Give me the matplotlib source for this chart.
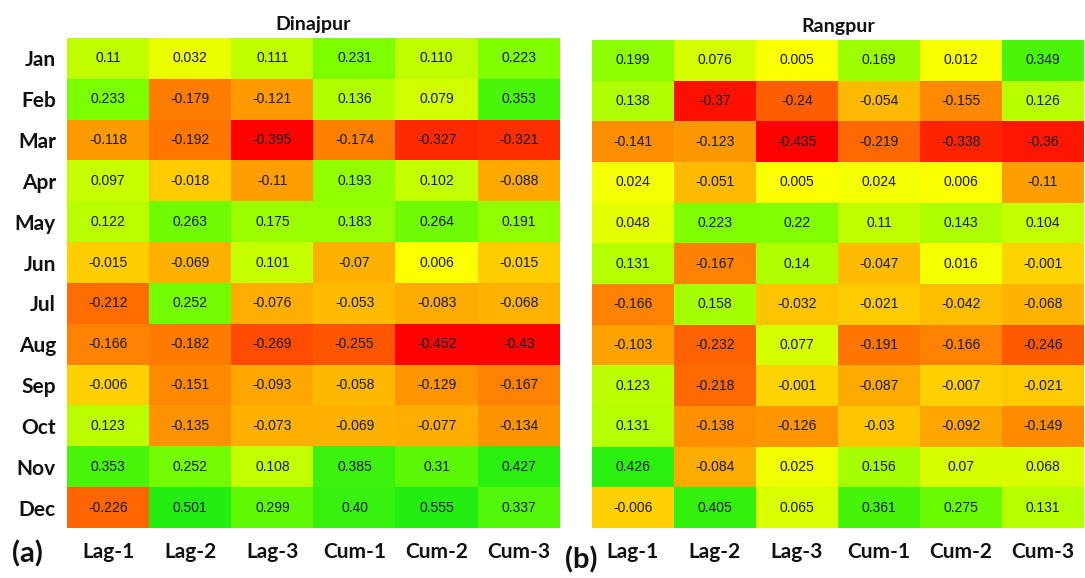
import numpy as np
import matplotlib
matplotlib.use('Agg')
from matplotlib import pyplot as plt
from matplotlib.colors import LinearSegmentedColormap, TwoSlopeNorm

months = ['Jan', 'Feb', 'Mar', 'Apr', 'May', 'Jun',
          'Jul', 'Aug', 'Sep', 'Oct', 'Nov', 'Dec']
periods = ['Lag-1', 'Lag-2', 'Lag-3', 'Cum-1', 'Cum-2', 'Cum-3']

# correlation with rainfall, rows = months, cols = periods
dinajpur = [
    [0.11, 0.032, 0.111, 0.231, 0.110, 0.223],
    [0.233, -0.179, -0.121, 0.136, 0.079, 0.353],
    [-0.118, -0.192, -0.395, -0.174, -0.327, -0.321],
    [0.097, -0.018, -0.11, 0.193, 0.102, -0.088],
    [0.122, 0.263, 0.175, 0.183, 0.264, 0.191],
    [-0.015, -0.069, 0.101, -0.07, 0.006, -0.015],
    [-0.212, 0.252, -0.076, -0.053, -0.083, -0.068],
    [-0.166, -0.182, -0.269, -0.255, -0.452, -0.43],
    [-0.006, -0.151, -0.093, -0.058, -0.129, -0.167],
    [0.123, -0.135, -0.073, -0.069, -0.077, -0.134],
    [0.353, 0.252, 0.108, 0.385, 0.31, 0.427],
    [-0.226, 0.501, 0.299, 0.40, 0.555, 0.337],
]
# printed labels keep trailing zeros as in the table
dinajpur_text = [
    ['0.11', '0.032', '0.111', '0.231', '0.110', '0.223'],
    ['0.233', '-0.179', '-0.121', '0.136', '0.079', '0.353'],
    ['-0.118', '-0.192', '-0.395', '-0.174', '-0.327', '-0.321'],
    ['0.097', '-0.018', '-0.11', '0.193', '0.102', '-0.088'],
    ['0.122', '0.263', '0.175', '0.183', '0.264', '0.191'],
    ['-0.015', '-0.069', '0.101', '-0.07', '0.006', '-0.015'],
    ['-0.212', '0.252', '-0.076', '-0.053', '-0.083', '-0.068'],
    ['-0.166', '-0.182', '-0.269', '-0.255', '-0.452', '-0.43'],
    ['-0.006', '-0.151', '-0.093', '-0.058', '-0.129', '-0.167'],
    ['0.123', '-0.135', '-0.073', '-0.069', '-0.077', '-0.134'],
    ['0.353', '0.252', '0.108', '0.385', '0.31', '0.427'],
    ['-0.226', '0.501', '0.299', '0.40', '0.555', '0.337'],
]
rangpur = [
    [0.199, 0.076, 0.005, 0.169, 0.012, 0.349],
    [0.138, -0.37, -0.24, -0.054, -0.155, 0.126],
    [-0.141, -0.123, -0.435, -0.219, -0.338, -0.36],
    [0.024, -0.051, 0.005, 0.024, 0.006, -0.11],
    [0.048, 0.223, 0.22, 0.11, 0.143, 0.104],
    [0.131, -0.167, 0.14, -0.047, 0.016, -0.001],
    [-0.166, 0.158, -0.032, -0.021, -0.042, -0.068],
    [-0.103, -0.232, 0.077, -0.191, -0.166, -0.246],
    [0.123, -0.218, -0.001, -0.087, -0.007, -0.021],
    [0.131, -0.138, -0.126, -0.03, -0.092, -0.149],
    [0.426, -0.084, 0.025, 0.156, 0.07, 0.068],
    [-0.006, 0.405, 0.065, 0.361, 0.275, 0.131],
]

# red -> orange below zero, yellow -> green above zero
cmap = LinearSegmentedColormap.from_list('ryg', [
    (0.0, '#ff0000'), (0.22, '#ff6800'), (0.4999, '#ffd400'),
    (0.5, '#ffff00'), (0.75, '#80ff00'), (1.0, '#22ee11')])
norm = TwoSlopeNorm(vmin=-0.4, vcenter=0.0, vmax=0.45)

W, H = 1085, 578
fig = plt.figure(figsize=(W / 100, H / 100), dpi=100)

label_font = dict(family='Lato', fontweight='bold', color='#111111')


def panel(box, data, title, letter, letter_xy, show_months, texts=None):
    x0, y0, x1, y1 = box
    ax = fig.add_axes([x0 / W, 1 - y1 / H, (x1 - x0) / W, (y1 - y0) / H])
    arr = np.array(data)
    ax.imshow(arr, cmap=cmap, norm=norm, aspect='auto', interpolation='nearest')
    for i in range(arr.shape[0]):
        for j in range(arr.shape[1]):
            s = texts[i][j] if texts else f'{arr[i, j]:g}'
            ax.text(j, i, s, ha='center', va='center', fontsize=10,
                    family='Liberation Sans', color='#1a1a1a')
    ax.set_xticks(range(len(periods)))
    ax.set_xticklabels(periods, fontsize=15, **label_font)
    ax.tick_params(length=0, pad=10)
    if show_months:
        ax.set_yticks(range(len(months)))
        ax.set_yticklabels(months, fontsize=15, **label_font)
        ax.tick_params(axis='y', pad=8)
    else:
        ax.set_yticks([])
    for sp in ax.spines.values():
        sp.set_visible(False)
    ax.set_title(title, fontsize=14, pad=6, **label_font)
    fig.text(letter_xy[0] / W, 1 - letter_xy[1] / H, letter, fontsize=21,
             ha='left', va='center', **label_font)
    return ax


panel((67, 38, 560, 528), dinajpur, 'Dinajpur', '(a)', (12, 554), True,
      dinajpur_text)
panel((592, 40, 1084, 528), rangpur, 'Rangpur', '(b)', (565, 560), False)

fig.savefig('out.png', dpi=100)
